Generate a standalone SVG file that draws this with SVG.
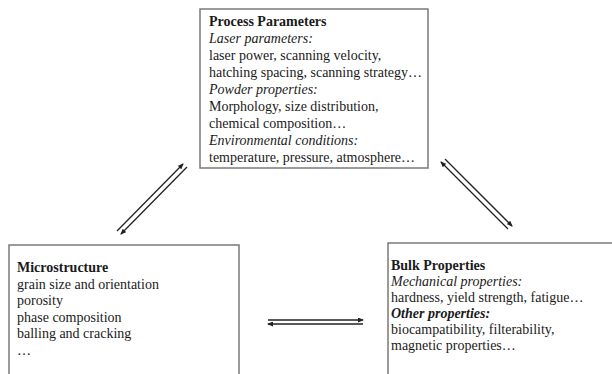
<svg xmlns="http://www.w3.org/2000/svg" width="612" height="374" viewBox="0 0 612 374">
<defs>
<style>
.box{fill:#fff;stroke:#7a7a7a;stroke-width:1.5}
.t{font-family:"Liberation Serif","Times New Roman",serif;font-size:14px;fill:#1a1a1a}
.b{font-weight:bold}
.i{font-style:italic}
.c{stroke:#222;stroke-width:1.3;fill:none;marker-end:url(#ah)}
</style>
<marker id="ah" viewBox="0 0 6 5" refX="5" refY="2.5" markerWidth="6" markerHeight="5" markerUnits="userSpaceOnUse" orient="auto">
<path d="M0,0 L6,2.5 L0,5 z" fill="#222"/>
</marker>
</defs>
<rect width="612" height="374" fill="#fff"/>
<g id="process-parameters">
<rect class="box" x="200" y="9" width="228" height="159"/>
<text class="t b" x="209" y="26">Process Parameters</text>
<text class="t i" x="209" y="43">Laser parameters:</text>
<text class="t" x="209" y="60">laser power, scanning velocity,</text>
<text class="t" x="209" y="77">hatching spacing, scanning strategy…</text>
<text class="t i" x="209" y="94">Powder properties:</text>
<text class="t" x="209" y="111">Morphology, size distribution,</text>
<text class="t" x="209" y="128">chemical composition…</text>
<text class="t i" x="209" y="145">Environmental conditions:</text>
<text class="t" x="209" y="162">temperature, pressure, atmosphere…</text>
</g>
<g id="microstructure">
<rect class="box" x="9" y="245" width="230" height="140"/>
<text class="t b" x="17" y="272">Microstructure</text>
<text class="t" x="17" y="289">grain size and orientation</text>
<text class="t" x="17" y="305">porosity</text>
<text class="t" x="17" y="322">phase composition</text>
<text class="t" x="17" y="338">balling and cracking</text>
<text class="t" x="17" y="355">…</text>
</g>
<g id="bulk-properties">
<rect class="box" x="388" y="243" width="230" height="140"/>
<text class="t b" x="391" y="270">Bulk Properties</text>
<text class="t i" x="391" y="286">Mechanical properties:</text>
<text class="t" x="391" y="302">hardness, yield strength, fatigue…</text>
<text class="t b i" x="391" y="318">Other properties:</text>
<text class="t" x="391" y="334">biocampatibility, filterability,</text>
<text class="t" x="391" y="350">magnetic properties…</text>
</g>
<g id="connectors">
<line class="c" x1="117" y1="231" x2="183" y2="164"/>
<line class="c" x1="187" y1="167" x2="121" y2="234"/>
<line class="c" x1="508" y1="229" x2="441" y2="162"/>
<line class="c" x1="445" y1="159" x2="512" y2="226"/>
<line class="c" x1="268" y1="320" x2="363" y2="320"/>
<line class="c" x1="363" y1="324" x2="268" y2="324"/>
</g>
</svg>
